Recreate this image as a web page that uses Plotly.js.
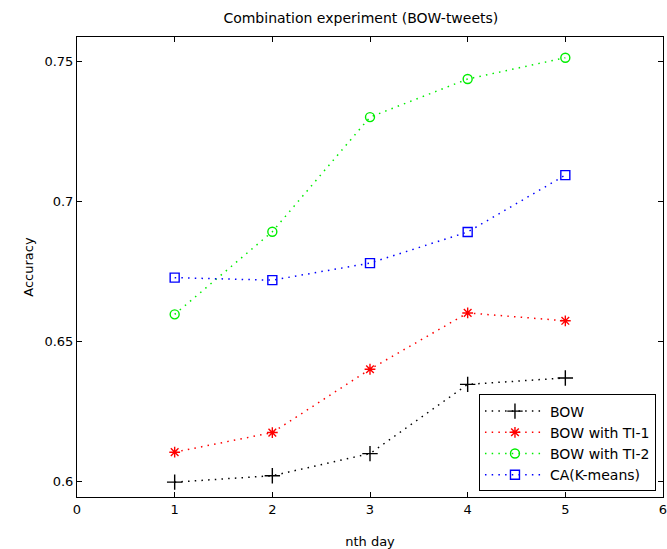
<!DOCTYPE html>
<html>
<head>
<meta charset="utf-8">
<script src="https://cdn.plot.ly/plotly-3.0.1.min.js"></script>
<style>html,body{margin:0;padding:0;background:#fff;}#chart{width:667px;height:549px;}</style>
</head>
<body>
<div id="chart"></div>
<script>
const days = [1, 2, 3, 4, 5];
const bow = [0.5998, 0.6021, 0.6100, 0.6347, 0.6370];
const bowTI1 = [0.6105, 0.6175, 0.6401, 0.6602, 0.6574];
const bowTI2 = [0.6597, 0.6892, 0.7301, 0.7437, 0.7513];
const caKmeans = [0.6728, 0.6719, 0.6780, 0.6891, 0.7094];
const seriesNames = ["BOW", "BOW with TI-1", "BOW with TI-2", "CA(K-means)"];
const xTicks = [0, 1, 2, 3, 4, 5, 6];
const yTicks = [0.6, 0.65, 0.7, 0.75];
const yTickLabels = ["0.6", "0.65", "0.7", "0.75"];

const font = "DejaVu Sans, Arial, sans-serif";
function tr(y, name, color, symbol, size) {
  return {
    x: days, y: y, name: name, type: "scatter", mode: "lines+markers",
    line: {color: color, width: 1.5, dash: "1.5px,5.2px"},
    marker: {symbol: symbol, size: size, color: color, line: {color: color, width: 1.4}}
  };
}
const data = [
  tr(bow, seriesNames[0], "#000000", "cross-thin-open", 11),
  tr(bowTI1, seriesNames[1], "#ff0000", "asterisk-open", 9),
  tr(bowTI2, seriesNames[2], "#00ee00", "circle-open", 9),
  tr(caKmeans, seriesNames[3], "#0000ff", "square-open", 9)
];
const axisCommon = {
  showline: true, linecolor: "#000", linewidth: 1, mirror: "ticks",
  ticks: "inside", ticklen: 5, tickcolor: "#000", showgrid: false, zeroline: false,
  ticklabeloverflow: "allow",
  tickfont: {family: font, size: 13, color: "#000"}
};
const layout = {
  width: 667, height: 549,
  margin: {l: 77, r: 4, t: 37, b: 52},
  paper_bgcolor: "#fff", plot_bgcolor: "#fff",
  font: {family: font, color: "#000"},
  title: {text: "Combination experiment (BOW-tweets)", font: {family: font, size: 14, color: "#000"},
          x: 0.541, xref: "container", y: 1 - 18/549, yref: "container", yanchor: "middle", xanchor: "center"},
  xaxis: Object.assign({}, axisCommon, {
    range: [0, 6], tickvals: xTicks, ticktext: xTicks.map(String),
    title: {text: "nth day", font: {family: font, size: 13, color: "#000"}, standoff: 22}
  }),
  yaxis: Object.assign({}, axisCommon, {
    range: [0.5945, 0.7587], tickvals: yTicks, ticktext: yTickLabels,
    title: {text: "Accuracy", font: {family: font, size: 13, color: "#000"}, standoff: 7}
  }),
  showlegend: true,
  legend: {x: 0.988, y: 0.012, xanchor: "right", yanchor: "bottom",
           bgcolor: "#fff", bordercolor: "#000", borderwidth: 1,
           font: {family: font, size: 14, color: "#000"}, tracegroupgap: 0, itemwidth: 60}
};
Plotly.newPlot("chart", data, layout, {displayModeBar: false, staticPlot: true});
</script>
</body>
</html>
